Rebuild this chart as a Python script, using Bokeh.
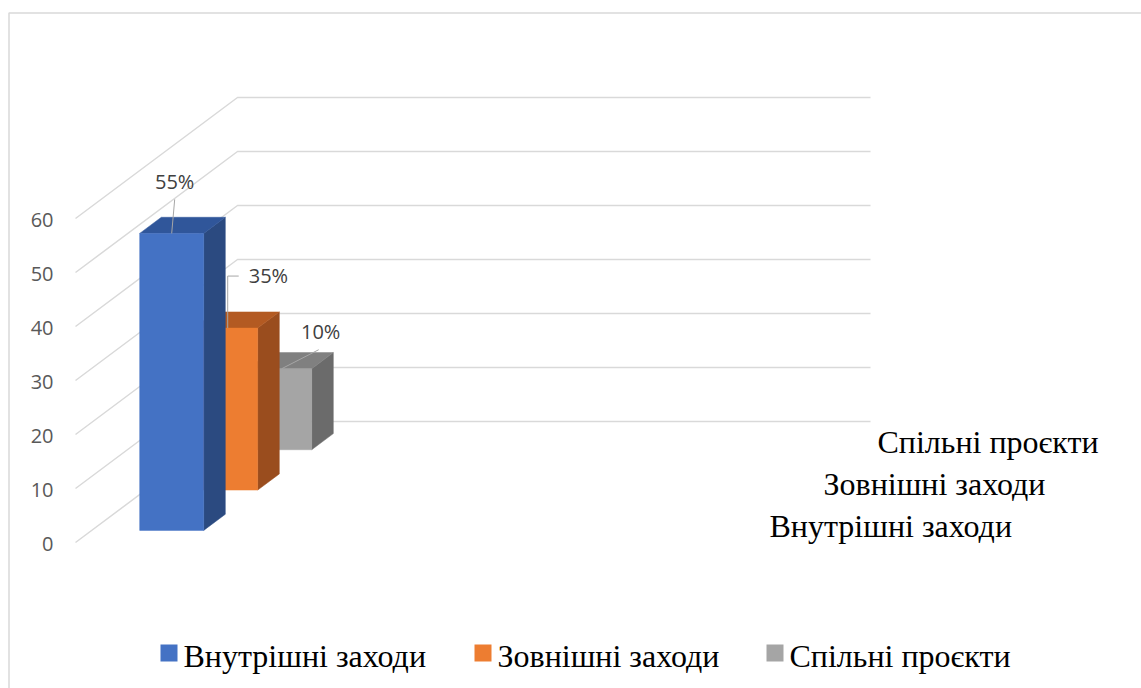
from bokeh.plotting import figure
from bokeh.models import Range1d
from bokeh.core.properties import value
from bokeh.embed import file_html
from bokeh.resources import INLINE

# ---------------- data ----------------
series = ["Внутрішні заходи", "Зовнішні заходи", "Спільні проєкти"]
bar_values = [55, 30, 15]
data_labels = ["55%", "35%", "10%"]
y_ticks = [0, 10, 20, 30, 40, 50, 60]
tick_labels = ["0", "10", "20", "30", "40", "50", "60"]

# ---------------- style ----------------
front_colors = ["#4472C4", "#ED7D31", "#A5A5A5"]
top_colors = ["#30569A", "#B35A22", "#808080"]
side_colors = ["#2B4A80", "#9A4D1E", "#6B6B6B"]
grid_color = "#D9D9D9"

W, H = 1141, 688
PXU = 5.4            # pixels per value unit
ZERO_Y = 542         # figure px (from top) of value 0 on the front plane
vmin = -(H - ZERO_Y) / PXU
vmax = vmin + H / PXU


def u(px):
    return px / PXU


def py(fig_y):
    """figure pixel row -> value units"""
    return (ZERO_Y - fig_y) / PXU


X0 = 75              # front-left corner of the walls (figure px)
DX = 162             # horizontal shift from front to back
DZ = u(121)          # vertical shift from front to back (value units)
WALL_R = 870         # right end of back wall
FLOOR_R = WALL_R - DX
BAR_L, BAR_W = 48, 64
SLOT_FRONT, SLOT_DEPTH = 0.3, 0.4


def proj(xo, v, z):
    return X0 + xo + z * DX, v + z * DZ


p = figure(width=W, height=H, output_backend="svg", toolbar_location=None,
           x_range=Range1d(0, W), y_range=Range1d(vmin, vmax),
           min_border=0, outline_line_color=None)
p.axis.visible = False
p.grid.visible = False
p.background_fill_color = "white"
p.border_fill_color = "white"

# chart frame
p.quad(left=[8.5], right=[W + 50], top=[py(12.5)], bottom=[vmin - 50],
       fill_alpha=0, line_color=grid_color, line_width=1.5)

# gridlines: side wall + back wall
gx, gy = [], []
for t in y_ticks:
    gx.append([X0, X0 + DX, WALL_R])
    gy.append([t, t + DZ, t + DZ])
p.multi_line(gx, gy, line_color=grid_color, line_width=1.5)

# tick labels
p.text(x=[X0 - 22] * len(y_ticks), y=[t - u(1) for t in y_ticks], text=tick_labels,
       text_font=value("Open Sans"), text_font_size="20px",
       text_color="#595959", text_align="right", text_baseline="middle")

# bars, back to front
n = len(series)
for i in reversed(range(n)):
    v = bar_values[i]
    zf = (i + SLOT_FRONT) / n
    zb = (i + SLOT_FRONT + SLOT_DEPTH) / n
    xl, xr = BAR_L, BAR_L + BAR_W
    # side face
    pts = [proj(xr, 0, zf), proj(xr, v, zf), proj(xr, v, zb), proj(xr, 0, zb)]
    p.patch([a for a, b in pts], [b for a, b in pts], fill_color=side_colors[i],
            line_color=side_colors[i], line_width=0.5)
    # top face
    pts = [proj(xl, v, zf), proj(xr, v, zf), proj(xr, v, zb), proj(xl, v, zb)]
    p.patch([a for a, b in pts], [b for a, b in pts], fill_color=top_colors[i],
            line_color=top_colors[i], line_width=0.5)
    # front face
    x1, y1 = proj(xl, 0, zf)
    x2, y2 = proj(xr, v, zf)
    p.quad(left=[x1], right=[x2], bottom=[y1], top=[y2],
           fill_color=front_colors[i], line_color=front_colors[i], line_width=0.5)

# data labels with leader lines (offsets in px from front-top-left corner)
leader_offsets = [
    [(32, 0), (35, -34)],
    [(34, 0), (34, -52), (45, -52)],
    [(34, 0), (71, -19)],
]
label_offsets = [(35, -52), (55, -53), (73, -37)]
label_align = ["center", "left", "center"]
for i in range(n):
    zf = (i + SLOT_FRONT) / n
    ax, ay = proj(BAR_L, bar_values[i], zf)
    lx = [ax + dx for dx, dy in leader_offsets[i]]
    ly = [ay - u(dy) for dx, dy in leader_offsets[i]]
    p.line(lx, ly, line_color="#A6A6A6", line_width=1)
    ox, oy = label_offsets[i]
    p.text(x=[ax + ox], y=[ay - u(oy)], text=[data_labels[i]],
           text_font=value("Open Sans"), text_font_size="20px",
           text_color="#404040", text_align=label_align[i],
           text_baseline="middle")

# depth (series) axis labels
dlx, dly = [], []
for i in range(n):
    zc = (i + 0.5) / n
    fx, fy = FLOOR_R + zc * DX, zc * DZ
    dlx.append(fx + 34)
    dly.append(fy - u(4) + u(2) * i)
p.text(x=dlx, y=dly, text=series, text_font=value("Liberation Serif"),
       text_font_size="32px", text_color="#000000", text_align="left",
       text_baseline="alphabetic")

# legend
leg_x = [160, 474, 766]
leg_top, leg_size = 644, 17
leg_base = 655
for i in range(n):
    p.quad(left=[leg_x[i]], right=[leg_x[i] + leg_size],
           top=[py(leg_top)], bottom=[py(leg_top + leg_size)],
           fill_color=front_colors[i], line_color=None)
    p.text(x=[leg_x[i] + leg_size + 6], y=[py(leg_base)], text=[series[i]],
           text_font=value("Liberation Serif"), text_font_size="32px",
           text_color="#000000", text_align="left", text_baseline="alphabetic")

open("out.html", "w").write(file_html(p, INLINE))
